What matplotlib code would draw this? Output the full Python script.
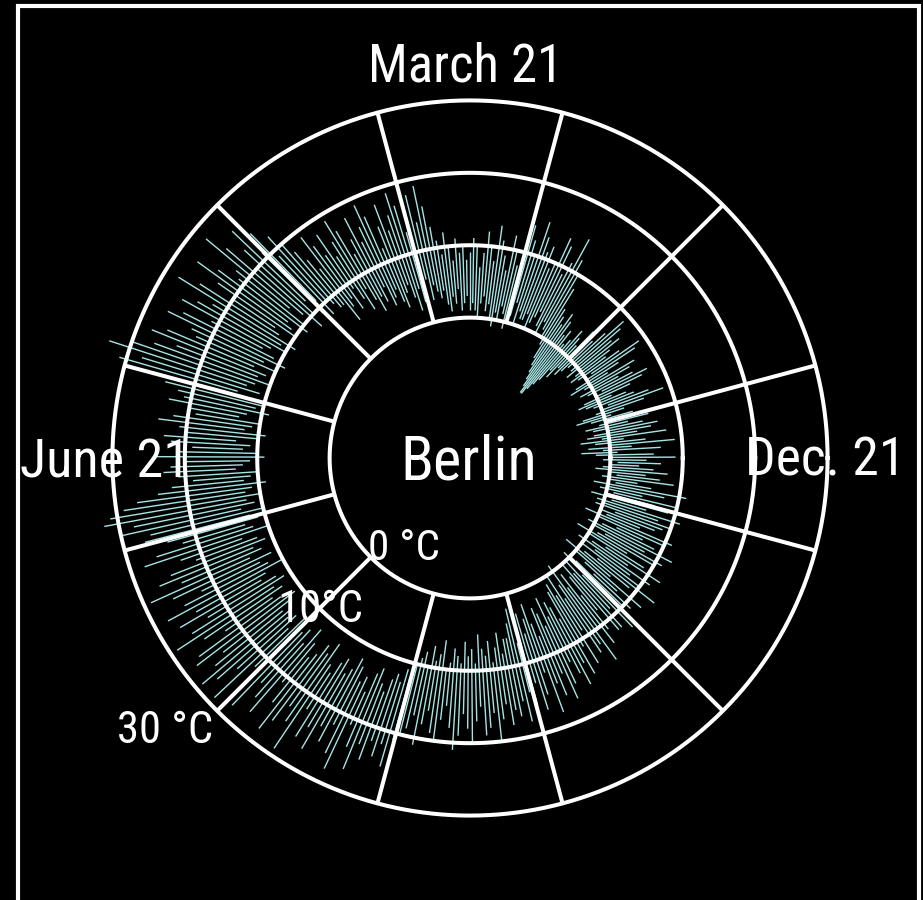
import numpy as np
import matplotlib
matplotlib.use("Agg")
import matplotlib.pyplot as plt
from matplotlib.patches import Rectangle

# ---------------- data (daily min / max temperature, deg C) ----------------
tmin_jan = [-2,-3,-1,0,-2,-4,-3,-1,0,1,-1,-2,-3,-2,0,1,-1,-2,0,-1,-3,-2,0,1,-1,-2,-1,0,-2,-1,0]
tmax_jan = [5,3,6,8,4,1,3,6,9,7,5,4,2,5,7,8,6,4,6,7,3,5,8,9,6,4,5,7,6,8,9]
tmin_feb = [-1,-2,-3,-2,-4,-3,-5,-6,-7,-8,-8,-7,-6,-5,-4,-3,-1,0,1,2,0,1,3,2,1,0,2,1]
tmax_feb = [6,4,3,5,2,3,4,2,1,3,2,4,5,3,4,5,8,10,12,15,11,9,13,14,10,9,12,11]
tmin_mar = [1,2,0,3,1,0,-1,1,2,0,1,-1,0,2,1,3,2,0,1,2,1,3,2,1,4,2,3,1,2,4,3]
tmax_mar = [13,15,10,12,14,9,8,10,12,7,9,11,13,8,10,12,9,7,10,11,9,8,10,9,11,8,10,12,9,11,13]
tmin_apr = [4,5,3,6,4,3,5,2,4,6,5,3,4,6,5,4,7,5,6,4,6,8,5,7,9,6,8,7,5,8]
tmax_apr = [16,19,14,18,15,13,17,19,16,14,18,15,12,17,19,16,14,18,15,13,17,19,16,14,18,15,17,19,14,16]
tmin_may = [8,9,10,8,11,9,12,10,8,11,13,10,9,12,11,10,13,12,9,11,10,12,13,11,9,12,10,13,11,12,10]
tmax_may = [18,20,22,19,24,21,26,23,20,25,28,22,21,24,27,23,20,25,28,22,24,26,21,25,27,23,22,26,28,24,27]
tmin_jun = [12,13,11,14,12,10,11,9,12,13,10,11,12,9,10,13,11,12,10,9,11,12,13,10,11,12,9,11,12,10]
tmax_jun = [30,33,28,31,26,24,22,21,23,20,19,22,24,21,20,23,22,19,21,24,20,22,23,21,19,22,24,27,29,31]
tmin_jul = [12,11,13,10,12,11,13,12,10,14,12,11,13,12,14,11,13,12,10,13,14,12,11,13,12,14,13,11,12,14,13]
tmax_jul = [32,28,30,26,27,24,22,26,28,23,21,25,27,24,29,26,22,25,28,24,27,23,26,29,25,22,27,28,24,26,29]
tmin_aug = [14,13,15,12,16,14,13,15,12,14,16,15,13,14,12,15,16,14,13,15,14,12,13,15,14,16,13,12,14,15,13]
tmax_aug = [27,24,29,22,26,28,23,25,27,21,24,28,26,23,25,29,22,26,24,27,23,25,22,26,28,21,24,27,23,25,22]
tmin_sep = [12,13,11,12,10,9,8,10,7,9,8,6,10,9,7,8,9,6,8,7,9,5,7,8,6,9,7,5,8,6]
tmax_sep = [24,22,25,21,20,19,17,21,18,16,19,20,17,15,18,21,19,16,18,20,17,15,19,18,16,20,17,15,18,16]
tmin_oct = [6,4,2,7,5,3,6,4,2,5,7,3,4,6,2,5,3,4,6,2,1,3,0,4,2,-1,3,1,5,2,0]
tmax_oct = [17,15,18,14,16,13,17,15,12,18,14,16,13,17,15,12,14,16,13,15,11,14,9,13,12,15,10,13,11,8,12]
tmin_nov = [2,0,3,-1,1,4,2,0,-2,1,3,0,2,-1,1,3,0,-2,1,2,0,-1,1,3,0,-2,1,0,2,-1]
tmax_nov = [12,9,13,7,10,11,8,12,6,9,13,10,8,11,7,12,9,6,10,11,8,12,9,7,10,11,6,8,9,10]
tmin_dec = [0,-1,1,-2,0,1,-1,0,-2,1,0,-1,1,0,-2,-1,0,1,-1,0,-2,-4,-1,-3,0,-2,-4,-1,-3,-2,0]
tmax_dec = [8,11,6,9,7,10,5,8,11,6,4,9,7,5,8,6,4,7,5,9,6,1,7,3,9,5,2,8,4,6,7]

ring_temps = [0, 10, 20, 30]
ring_labels = ["0 °C", "10°C", None, "30 °C"]
season_labels = ["March 21", "June 21", "Dec. 21"]
city = "Berlin"

tmin = np.array(tmin_jan + tmin_feb + tmin_mar + tmin_apr + tmin_may + tmin_jun +
                tmin_jul + tmin_aug + tmin_sep + tmin_oct + tmin_nov + tmin_dec, float)
tmax = np.array(tmax_jan + tmax_feb + tmax_mar + tmax_apr + tmax_may + tmax_jun +
                tmax_jul + tmax_aug + tmax_sep + tmax_oct + tmax_nov + tmax_dec, float)
days = np.arange(len(tmin))
# March 21 (day 79) at the top, time running counter-clockwise
theta = np.pi / 2 + 2 * np.pi * (days - 79) / 365.0

# ---------------- figure ----------------
W, H = 923, 900
fig = plt.figure(figsize=(W / 100, H / 100), dpi=100, facecolor="black")

cx, cy, R = 470, 458, 415.5
ax = fig.add_axes([(cx - R) / W, (H - cy - R) / H, 2 * R / W, 2 * R / H],
                  projection="polar")
ax.set_facecolor("black")
ax.set_ylim(-19.39, 38)
ax.set_axis_off()

# daily min-max bars
ax.vlines(theta, tmin, tmax, colors="#a6e4e4", linewidth=1.0, zorder=2)

# spokes (sector borders)
spoke_angles = np.deg2rad(np.arange(15, 360, 30))
ax.vlines(spoke_angles, ring_temps[0], ring_temps[-1], colors="white",
          linewidth=2.9, zorder=3)

# rings
circ = np.linspace(0, 2 * np.pi, 721)
for t in ring_temps:
    ax.plot(circ, np.full_like(circ, t), color="white", lw=2.9, zorder=4)

# ---------------- texts ----------------
fam = ["Roboto Condensed", "Archivo Narrow", "Liberation Sans", "DejaVu Sans"]
renderer = fig.canvas.get_renderer()

def ftext(x, y, s, width):
    t = fig.text(x / W, (H - y) / H, s, color="white", fontsize=40, family=fam,
                 ha="center", va="baseline", zorder=5)
    w = t.get_window_extent(renderer).width
    t.set_fontsize(40 * width / w)
    return t

ftext(465.5, 82, season_labels[0], 195)
ftext(105, 477, season_labels[1], 170)
ftext(825, 475, season_labels[2], 160)
ftext(468.5, 480, city, 137)
ftext(404, 560, ring_labels[0], 72)
ftext(320, 622, ring_labels[1], 86)
ftext(165, 743, ring_labels[3], 96)

# white frame
fig.patches.append(Rectangle((18 / W, -0.02), (919 - 18) / W, (H - 5.5) / H + 0.02,
                             transform=fig.transFigure, fill=False,
                             edgecolor="white", linewidth=3, zorder=10))

fig.savefig("out.png", dpi=100, facecolor="black")
